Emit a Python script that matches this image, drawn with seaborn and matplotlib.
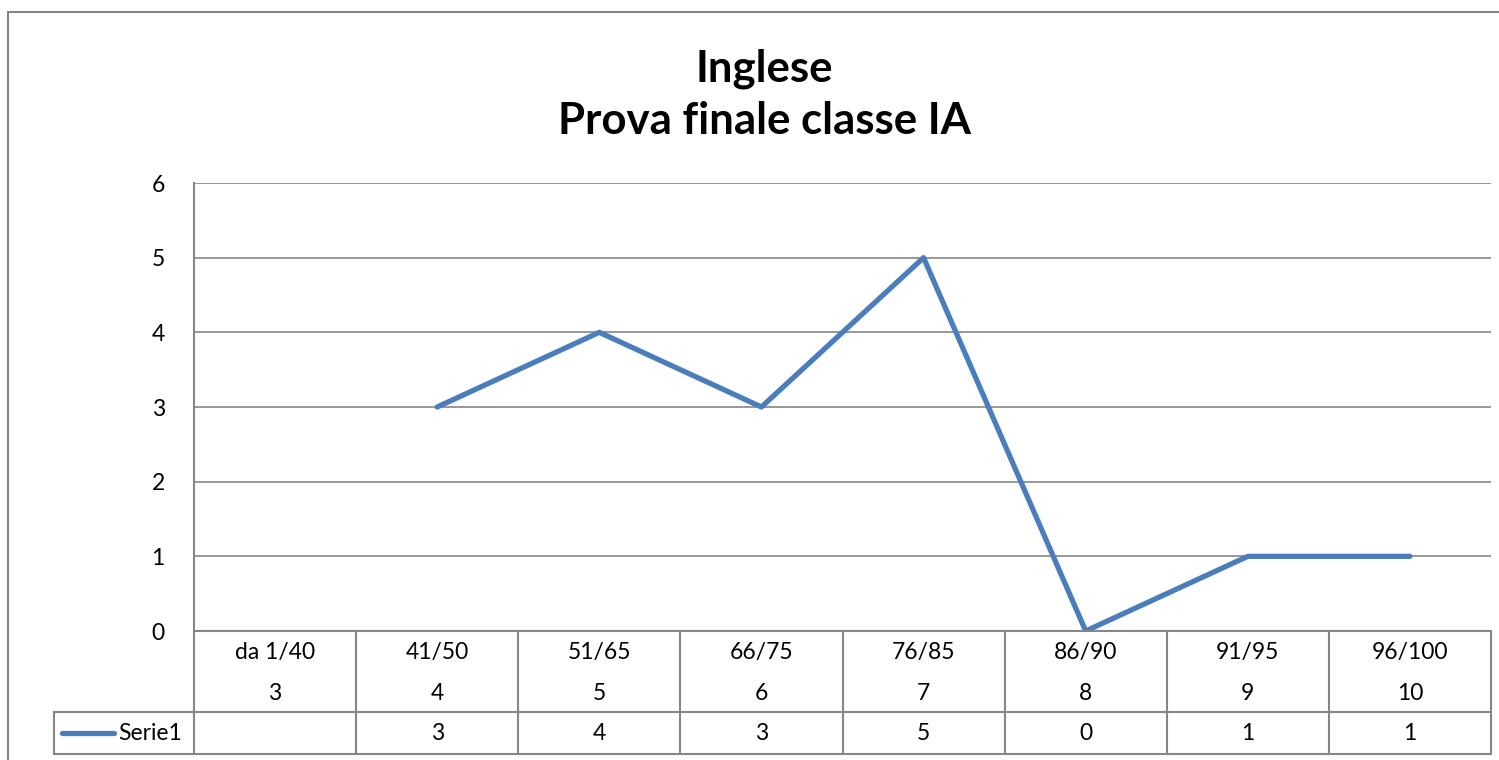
import numpy as np
import pandas as pd
import matplotlib
matplotlib.use('Agg')
import matplotlib.pyplot as plt
import matplotlib.transforms as mtransforms
from matplotlib.lines import Line2D
from matplotlib.patches import Rectangle
import seaborn as sns

# dati
fasce = ['da 1/40', '41/50', '51/65', '66/75', '76/85', '86/90', '91/95', '96/100']
voti = ['3', '4', '5', '6', '7', '8', '9', '10']
serie1 = [np.nan, 3, 4, 3, 5, 0, 1, 1]
nome_serie = 'Serie1'
titolo = 'Inglese\nProva finale classe IA'

df = pd.DataFrame({'pos': range(len(fasce)), 'valore': serie1})

sns.set_theme(style='white')
plt.rcParams['font.family'] = ['Lato', 'DejaVu Sans']
plt.rcParams['text.color'] = 'black'

W, H = 1499, 760
fig = plt.figure(figsize=(W / 100, H / 100), dpi=100)

def px(x0, y0, x1, y1):
    # rettangolo in pixel (origine in alto a sinistra) -> coordinate figura
    return [x0 / W, 1 - y1 / H, (x1 - x0) / W, (y1 - y0) / H]

grigio = '#868686'
blu = '#4A7EBB'
fs = 16.5

# cornice esterna del grafico
fig.patches.append(Rectangle((8 / W, -0.1), 1.2, 1 - 12 / H + 0.1, transform=fig.transFigure,
                             fill=False, edgecolor=grigio, linewidth=1.5))

ax = fig.add_axes(px(194, 183, 1491, 631))
sns.lineplot(data=df, x='pos', y='valore', ax=ax, color=blu, linewidth=3.8, legend=False)

ax.set_xlim(-0.5, len(fasce) - 0.5)
ax.set_ylim(0, 6)
ax.set_yticks(range(0, 7))
ax.set_xticks([])
ax.set_xlabel('')
ax.set_ylabel('')
ax.tick_params(axis='y', length=0, pad=21, labelsize=fs, labelcolor='black')
ax.grid(axis='y', color=grigio, linewidth=1.2)
ax.set_axisbelow(True)
for s in ['top', 'right', 'bottom']:
    ax.spines[s].set_visible(False)
ax.spines['left'].set_color(grigio)
ax.spines['left'].set_linewidth(1.5)

fig.text(764 / W, 1 - 95 / H, titolo, ha='center', va='center', fontsize=31.5,
         fontweight='bold', linespacing=1.35, color='black')

# tabella dati sotto il grafico
ph = 448.0
r1 = -81 / ph
r2 = -123 / ph
cw = 1297 / len(fasce)
left_serie = (54 - 194) / cw - 0.5
trans = mtransforms.blended_transform_factory(ax.transData, ax.transAxes)
lkw = dict(color=grigio, linewidth=1.5, transform=trans, clip_on=False)

ax.add_line(Line2D([-0.5, len(fasce) - 0.5], [0, 0], **lkw))
ax.add_line(Line2D([left_serie, len(fasce) - 0.5], [r1, r1], **lkw))
ax.add_line(Line2D([left_serie, len(fasce) - 0.5], [r2, r2], **lkw))
ax.add_line(Line2D([left_serie, left_serie], [r1, r2], **lkw))
for i in range(len(fasce) + 1):
    ax.add_line(Line2D([i - 0.5, i - 0.5], [0, r2], **lkw))

for i, (f, v) in enumerate(zip(fasce, voti)):
    ax.text(i, -21 / ph, f, transform=trans, ha='center', va='center', fontsize=fs)
    ax.text(i, -62 / ph, v, transform=trans, ha='center', va='center', fontsize=fs)
    val = serie1[i]
    if not np.isnan(val):
        ax.text(i, -102 / ph, f'{int(val)}', transform=trans, ha='center', va='center', fontsize=fs)

# legenda nella tabella
ax.add_line(Line2D([left_serie + 8 / cw, left_serie + 60 / cw], [-102 / ph, -102 / ph], color=blu,
                   linewidth=3.8, transform=trans, clip_on=False, solid_capstyle='round'))
ax.text(left_serie + 64 / cw, -102 / ph, nome_serie, transform=trans, ha='left', va='center', fontsize=fs)

fig.savefig('out.png', dpi=100, facecolor='white')
